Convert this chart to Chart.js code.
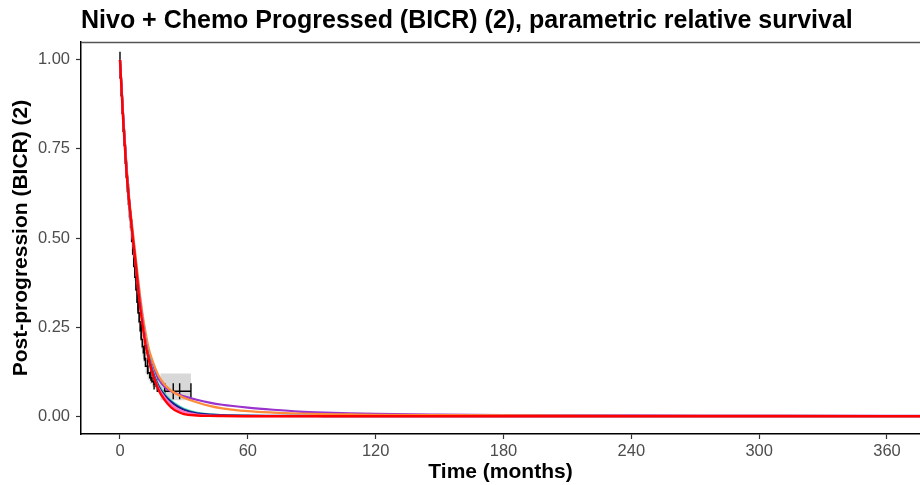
<!DOCTYPE html>
<html>
<head>
<meta charset="utf-8">
<script src="https://cdn.jsdelivr.net/npm/chart.js@4"></script>
<style>
  body { margin: 0; background: #fff; }
  #wrap { width: 920px; height: 485px; }
</style>
</head>
<body>
<div id="wrap"><canvas id="myChart" width="920" height="485"></canvas></div>
<script>
// model curves share one time grid (months)
const fitTime = [0, 1.5, 3, 4.5, 6, 7.5, 9, 10.5, 12, 13.5, 15, 18, 21, 24, 27, 30, 36, 42, 48, 60, 72, 84, 96, 108, 120, 150, 180, 240, 300, 360, 376]

const fitPurple = [1, 0.84, 0.70, 0.59, 0.51, 0.43, 0.35, 0.28, 0.22, 0.18, 0.145, 0.105, 0.082, 0.070, 0.062, 0.056, 0.046, 0.038, 0.032, 0.024, 0.018, 0.013, 0.010, 0.008, 0.0065, 0.0045, 0.0032, 0.002, 0.0014, 0.001, 0.001]
const fitOrange = [1, 0.84, 0.71, 0.60, 0.52, 0.44, 0.36, 0.29, 0.235, 0.19, 0.16, 0.115, 0.088, 0.072, 0.061, 0.052, 0.039, 0.029, 0.022, 0.014, 0.010, 0.0075, 0.006, 0.005, 0.004, 0.0028, 0.002, 0.0012, 0.0008, 0.0005, 0.0005]
const fitCyan = [1, 0.84, 0.70, 0.59, 0.50, 0.42, 0.34, 0.27, 0.215, 0.17, 0.135, 0.09, 0.062, 0.044, 0.031, 0.021, 0.010, 0.005, 0.003, 0.0012, 0.0005, 0.0002, 0, 0, 0, 0, 0, 0, 0, 0, 0]
const fitNavy = [1, 0.84, 0.70, 0.59, 0.50, 0.42, 0.34, 0.27, 0.21, 0.165, 0.13, 0.085, 0.058, 0.040, 0.027, 0.018, 0.008, 0.0045, 0.003, 0.0015, 0.001, 0.0006, 0.0004, 0.0002, 0.0001, 0, 0, 0, 0, 0, 0]
const fitPink = [1, 0.84, 0.70, 0.59, 0.50, 0.42, 0.34, 0.27, 0.21, 0.16, 0.125, 0.08, 0.052, 0.033, 0.02, 0.012, 0.0045, 0.0017, 0.0007, 0.0001, 0, 0, 0, 0, 0, 0, 0, 0, 0, 0, 0]
const fitRed = [1, 0.83, 0.69, 0.59, 0.50, 0.42, 0.33, 0.26, 0.20, 0.16, 0.125, 0.075, 0.045, 0.025, 0.013, 0.006, 0.002, 0.0008, 0.0003, 0, 0, 0, 0, 0, 0, 0, 0, 0, 0, 0, 0]

// Kaplan-Meier steps with pointwise CI
const kmTime = [0, 0.5, 1, 1.5, 2, 2.5, 3, 3.5, 4, 4.5, 5, 5.5, 6, 6.5, 7, 7.5, 8, 8.5, 9, 9.5, 10, 10.5, 11, 11.5, 12, 13, 14, 15, 16, 17, 18, 19, 20, 33.3]
const kmSurv = [1, 0.95, 0.90, 0.85, 0.80, 0.76, 0.71, 0.67, 0.63, 0.595, 0.56, 0.53, 0.49, 0.455, 0.42, 0.39, 0.355, 0.32, 0.29, 0.265, 0.24, 0.215, 0.195, 0.178, 0.162, 0.14, 0.122, 0.108, 0.097, 0.09, 0.084, 0.078, 0.070, 0.070]
const kmLower = [1, 0.93, 0.87, 0.82, 0.77, 0.72, 0.67, 0.63, 0.59, 0.55, 0.52, 0.49, 0.45, 0.42, 0.38, 0.35, 0.32, 0.29, 0.26, 0.235, 0.21, 0.188, 0.168, 0.152, 0.137, 0.118, 0.103, 0.091, 0.083, 0.077, 0.072, 0.067, 0.045, 0.045]
const kmUpper = [1, 0.97, 0.93, 0.88, 0.83, 0.80, 0.75, 0.71, 0.67, 0.64, 0.60, 0.57, 0.53, 0.49, 0.46, 0.43, 0.39, 0.355, 0.325, 0.30, 0.275, 0.248, 0.228, 0.21, 0.193, 0.165, 0.143, 0.126, 0.112, 0.104, 0.097, 0.090, 0.12, 0.12]

const censorTime = [0, 2.5, 4, 5.5, 7, 8.5, 10, 11.5, 13, 14.5, 16, 17.5, 21, 25, 28, 33.3]
const censorSurv = [1, 0.76, 0.63, 0.53, 0.42, 0.32, 0.24, 0.178, 0.14, 0.122, 0.097, 0.09, 0.070, 0.070, 0.070, 0.070]

const xTicks = [0, 60, 120, 180, 240, 300, 360]
const yTicks = [0, 0.25, 0.5, 0.75, 1]

const pts = (xs, ys) => xs.map((x, i) => ({ x, y: ys[i] }))
const FONT = '"Liberation Sans", Arial, sans-serif'

function fitLine(data, color, order, width) {
  return {
    data: pts(fitTime, data),
    borderColor: color,
    borderWidth: width || 2,
    pointRadius: 0,
    fill: false,
    cubicInterpolationMode: 'monotone',
    order,
  }
}

// thin grey frame line along the top of the panel
const topFrame = {
  id: 'topFrame',
  afterDraw(chart) {
    const { ctx, chartArea } = chart
    ctx.save()
    ctx.strokeStyle = '#555'
    ctx.lineWidth = 1.5
    ctx.beginPath()
    ctx.moveTo(chartArea.left, chartArea.top + 0.5)
    ctx.lineTo(chartArea.right, chartArea.top + 0.5)
    ctx.stroke()
    ctx.restore()
  },
}

new Chart(document.getElementById('myChart').getContext('2d'), {
  type: 'line',
  data: {
    datasets: [
      fitLine(fitRed, '#FF0000', 1, 2.4),
      fitLine(fitPink, '#FF6EC7', 2, 2.2),
      fitLine(fitNavy, '#1C1C8A', 3, 2.2),
      fitLine(fitCyan, '#4EE2C4', 4, 2.2),
      fitLine(fitOrange, '#FF8C3A', 5, 2.2),
      fitLine(fitPurple, '#9A32CD', 6, 2.2),
      {
        data: pts(kmTime, kmSurv),
        borderColor: '#000',
        borderWidth: 1.6,
        stepped: 'after',
        pointRadius: 0,
        fill: false,
        order: 7,
      },
      {
        type: 'scatter',
        data: pts(censorTime, censorSurv),
        pointStyle: 'line',
        rotation: 90,
        radius: 8,
        borderColor: '#000',
        borderWidth: 1.4,
        order: 8,
      },
      {
        data: pts(kmTime, kmUpper),
        borderWidth: 0,
        stepped: 'after',
        pointRadius: 0,
        fill: '+1',
        backgroundColor: 'rgba(190,190,190,0.6)',
        order: 9,
      },
      {
        data: pts(kmTime, kmLower),
        borderWidth: 0,
        stepped: 'after',
        pointRadius: 0,
        fill: false,
        order: 10,
      },
    ],
  },
  options: {
    responsive: false,
    animation: false,
    devicePixelRatio: 1,
    layout: { padding: 0, autoPadding: false },
    plugins: {
      legend: { display: false },
      tooltip: { enabled: false },
      title: {
        display: true,
        text: 'Nivo + Chemo Progressed (BICR) (2), parametric relative survival',
        align: 'start',
        fullSize: false,
        color: '#000',
        font: { family: FONT, size: 25, weight: 'bold', lineHeight: 1.2 },
        padding: { top: 6, bottom: 6 },
      },
    },
    scales: {
      x: {
        type: 'linear',
        min: -18.3,
        max: 375.5,
        afterFit: s => { s.height = 51; s.paddingLeft = 0; s.paddingRight = 0 },
        afterBuildTicks: s => { s.ticks = xTicks.map(v => ({ value: v })) },
        ticks: {
          color: '#4D4D4D',
          font: { family: FONT, size: 16.5 },
          padding: 3,
          maxRotation: 0,
        },
        grid: { drawOnChartArea: false, drawTicks: true, tickLength: 5, color: '#333', tickWidth: 1.2 },
        border: { display: true, color: '#000', width: 1.5 },
        title: {
          display: true,
          text: 'Time (months)',
          color: '#000',
          font: { family: FONT, size: 21, weight: 'bold', lineHeight: 1.2 },
          padding: { top: 0, bottom: 0 },
        },
      },
      y: {
        min: -0.05,
        max: 1.05,
        afterFit: s => { s.width = 81; s.paddingTop = 0; s.paddingBottom = 0 },
        afterBuildTicks: s => { s.ticks = yTicks.map(v => ({ value: v })) },
        ticks: {
          color: '#4D4D4D',
          font: { family: FONT, size: 16.5 },
          padding: 6,
          callback: v => v.toFixed(2),
        },
        grid: { drawOnChartArea: false, drawTicks: true, tickLength: 5, color: '#333', tickWidth: 1.2 },
        border: { display: true, color: '#000', width: 1.5 },
        title: {
          display: true,
          text: 'Post-progression (BICR) (2)',
          color: '#000',
          font: { family: FONT, size: 21, weight: 'bold', lineHeight: 1.2 },
          padding: { top: 9, bottom: 0 },
        },
      },
    },
  },
  plugins: [topFrame],
})
</script>
</body>
</html>
